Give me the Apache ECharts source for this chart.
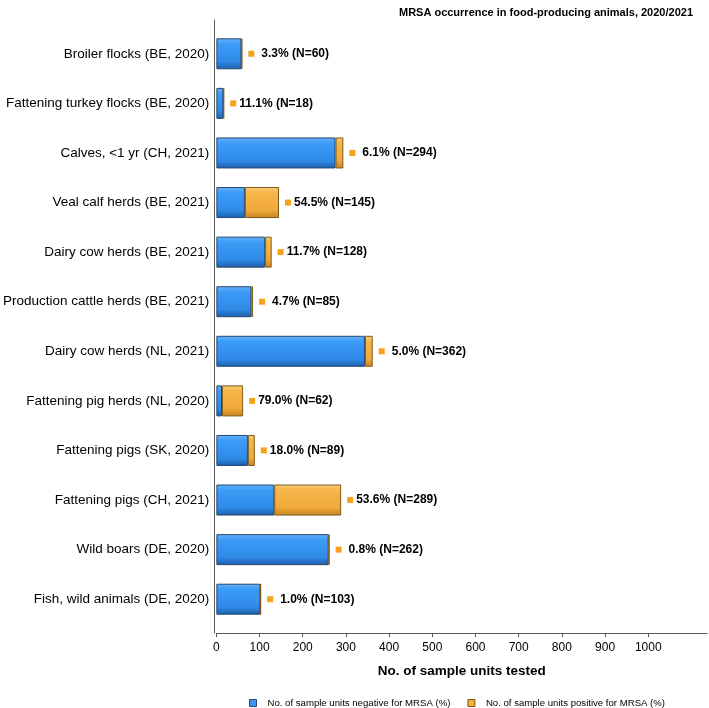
<!DOCTYPE html>
<html>
<head>
<meta charset="utf-8">
<script src="https://cdn.jsdelivr.net/npm/echarts@6/dist/echarts.min.js"></script>
<style>html,body{margin:0;padding:0;background:#fff}#c{width:709px;height:708px}</style>
</head>
<body>
<div id="c"></div>
<script>
var categories = [
  'Broiler flocks (BE, 2020)',
  'Fattening turkey flocks (BE, 2020)',
  'Calves, <1 yr (CH, 2021)',
  'Veal calf herds (BE, 2021)',
  'Dairy cow herds (BE, 2021)',
  'Production cattle herds (BE, 2021)',
  'Dairy cow herds (NL, 2021)',
  'Fattening pig herds (NL, 2020)',
  'Fattening pigs (SK, 2020)',
  'Fattening pigs (CH, 2021)',
  'Wild boars (DE, 2020)',
  'Fish, wild animals (DE, 2020)'
];
var negativeUnits = [58, 16, 276, 66, 113, 81, 344, 13, 73, 134, 260, 102];
var positiveUnits = [2, 2, 18, 79, 15, 4, 18, 49, 16, 155, 2, 1];
var positivePct = ['3.3', '11.1', '6.1', '54.5', '11.7', '4.7', '5.0', '79.0', '18.0', '53.6', '0.8', '1.0'];
var totalN = [60, 18, 294, 145, 128, 85, 362, 62, 89, 289, 262, 103];
var xTicks = [0, 100, 200, 300, 400, 500, 600, 700, 800, 900, 1000];
var seriesNames = ['No. of sample units negative for MRSA (%)', 'No. of sample units positive for MRSA (%)'];
var titleText = 'MRSA occurrence in food-producing animals, 2020/2021';
var xName = 'No. of sample units tested';

var FONT = '"Liberation Sans", Arial, sans-serif';
function grad(c0, c1, c2, c3) {
  return new echarts.graphic.LinearGradient(0, 0, 0, 1, [
    {offset: 0, color: c0}, {offset: 0.18, color: c1}, {offset: 0.75, color: c2}, {offset: 1, color: c3}
  ]);
}
var chart = echarts.init(document.getElementById('c'), null, {renderer: 'canvas'});
chart.setOption({
  animation: false,
  backgroundColor: '#fff',
  title: {
    text: titleText, right: 11, top: 2,
    textStyle: {fontFamily: FONT, fontSize: 11, fontWeight: 'bold', color: '#000'}
  },
  legend: {
    top: 698, left: 249, padding: 0,
    itemWidth: 7, itemHeight: 7, itemGap: 17,
    icon: 'rect',
    textStyle: {fontFamily: FONT, fontSize: 9.6, color: '#000', padding: [0, 0, 0, 6]},
    data: [
      {name: seriesNames[0], itemStyle: {color: '#3a96f0', borderColor: '#27476e', borderWidth: 1}},
      {name: seriesNames[1], itemStyle: {color: '#f3ae40', borderColor: '#80591a', borderWidth: 1}}
    ]
  },
  grid: [
    {left: 214, right: 2, top: 29, bottom: 84},
    {left: 214, right: 2, top: 20, bottom: 75}
  ],
  xAxis: [
    {
      gridIndex: 0, type: 'value', min: 0, max: 1136, interval: 100, offset: 9,
      name: xName, nameLocation: 'middle', nameGap: 31,
      nameTextStyle: {fontFamily: FONT, fontSize: 13.5, fontWeight: 'bold', color: '#000'},
      axisLine: {show: true, lineStyle: {color: '#595959', width: 1}},
      axisTick: {show: true, length: 4, lineStyle: {color: '#595959'}, customValues: xTicks},
      axisLabel: {fontFamily: FONT, fontSize: 12, color: '#000', margin: 9, customValues: xTicks,
        formatter: function (v) { return String(v); }},
      splitLine: {show: false}
    },
    {gridIndex: 1, type: 'value', show: false, min: 0, max: 1136}
  ],
  yAxis: [
    {
      gridIndex: 0, type: 'category', inverse: true, data: categories,
      axisLine: {show: false}, axisTick: {show: false},
      axisLabel: {fontFamily: FONT, fontSize: 13.5, color: '#000', margin: 7}
    },
    {
      gridIndex: 1, type: 'value', min: 0, max: 1,
      axisLine: {show: true, onZero: false, lineStyle: {color: '#595959', width: 1}},
      axisTick: {show: false}, axisLabel: {show: false}, splitLine: {show: false}
    }
  ],
  series: [
    {
      name: seriesNames[0], type: 'bar', stack: 'n', xAxisIndex: 0, yAxisIndex: 0,
      barWidth: 31,
      data: negativeUnits,
      itemStyle: {color: grad('#66b3fb', '#3c9cf7', '#2f8ae8', '#1d5ea9'), borderColor: '#27476e', borderWidth: 1}
    },
    {
      name: seriesNames[1], type: 'bar', stack: 'n', xAxisIndex: 0, yAxisIndex: 0,
      barWidth: 31,
      data: positiveUnits,
      itemStyle: {color: grad('#fbcd7a', '#f6b64a', '#f0a83a', '#c4851f'), borderColor: '#80591a', borderWidth: 1},
      label: {
        show: true, position: 'right', distance: 6,
        formatter: function (p) {
          var i = p.dataIndex;
          var pct = positivePct[i];
          var style = parseFloat(pct) < 10 ? 'b' : 'a';
          return '{m|}{' + style + '|' + pct + '% (N=' + totalN[i] + ')}';
        },
        rich: {
          m: {width: 6, height: 6, backgroundColor: '#f7a01a'},
          a: {fontFamily: FONT, fontSize: 12, fontWeight: 'bold', color: '#000', padding: [0, 0, 0, 3]},
          b: {fontFamily: FONT, fontSize: 12, fontWeight: 'bold', color: '#000', padding: [0, 0, 0, 7]}
        }
      }
    }
  ]
});
</script>
</body>
</html>
